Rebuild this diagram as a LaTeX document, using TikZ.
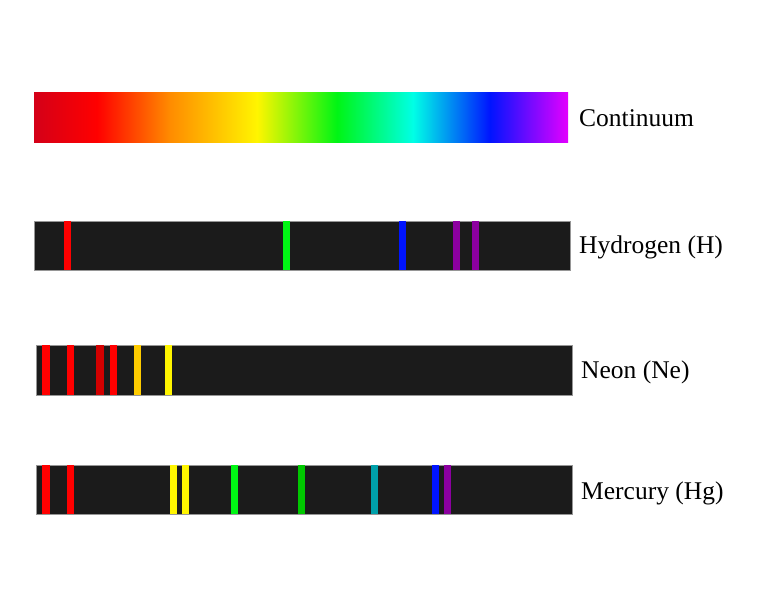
\documentclass[tikz,border=0pt]{standalone}
\usepackage{fontspec}
\setmainfont{Liberation Serif}
\definecolor{crim}{RGB}{212,0,24}
\definecolor{sred}{RGB}{255,0,0}
\definecolor{dred}{RGB}{210,0,0}
\definecolor{sorange}{RGB}{255,140,0}
\definecolor{syellow}{RGB}{255,245,0}
\definecolor{sgold}{RGB}{255,204,0}
\definecolor{sgreen}{RGB}{0,245,20}
\definecolor{dgreen}{RGB}{0,200,0}
\definecolor{scyan}{RGB}{0,255,230}
\definecolor{steal}{RGB}{0,160,170}
\definecolor{sblue}{RGB}{0,20,255}
\definecolor{spurple}{RGB}{140,0,160}
\definecolor{smagenta}{RGB}{228,0,255}
\definecolor{barbg}{RGB}{27,27,27}
\pgfdeclarehorizontalshading{rainbow}{100bp}{color(0bp)=(crim); color(25bp)=(crim);
  color(30.9bp)=(sred); color(37.75bp)=(sorange); color(45.9bp)=(syellow);
  color(53.35bp)=(sgreen); color(60.5bp)=(scyan); color(67.7bp)=(sblue);
  color(75bp)=(smagenta); color(100bp)=(smagenta)}
\tikzset{
  bar/.style={fill=barbg, draw={rgb,255:red,150;green,150;blue,150}, line width=0.8pt},
  specline/.style={line width=7pt},
  label/.style={anchor=base west, inner sep=0pt, font=\fontsize{25.5}{30}\selectfont}
}

\begin{document}
\begin{tikzpicture}[x=1pt, y=-1pt]
		      \useasboundingbox (0,0) rectangle (773,601);
		      % continuum
		      \shade[shading=rainbow] (34,93) rectangle (568,143);
		      \node[label] (cont) at (579,127) {Continuum};
		      % hydrogen
		      \draw[bar] (34,221) rectangle (570,270);
		      \draw[specline, sred] (67.7,221) -- (67.7,270);
		      \draw[specline, sgreen] (286.7,221) -- (286.7,270);
		      \draw[specline, sblue] (402,221) -- (402,270);
		      \draw[specline, spurple] (456.7,221) -- (456.7,270);
		      \draw[specline, spurple] (475.5,221) -- (475.5,270);
		      \node[label] (hyd) at (579,254) {Hydrogen (H)};
		      % neon
		      \draw[bar] (36,345) rectangle (572,395);
		      \draw[specline, sred, line width=8pt] (45.8,345) -- (45.8,395);
		      \draw[specline, sred] (70,345) -- (70,395);
		      \draw[specline, dred, line width=8pt] (100,345) -- (100,395);
		      \draw[specline, sred] (113,345) -- (113,395);
		      \draw[specline, sgold] (137,345) -- (137,395);
		      \draw[specline, syellow] (168,345) -- (168,395);
		      \node[label] (neon) at (581,378) {Neon (Ne)};
		      % mercury
		      \draw[bar] (36,465) rectangle (572,514);
		      \draw[specline, sred, line width=8pt] (45.7,465) -- (45.7,514);
		      \draw[specline, sred] (70,465) -- (70,514);
		      \draw[specline, syellow] (173.8,465) -- (173.8,514);
		      \draw[specline, syellow] (185.5,465) -- (185.5,514);
		      \draw[specline, sgreen] (234.5,465) -- (234.5,514);
		      \draw[specline, dgreen] (301.3,465) -- (301.3,514);
		      \draw[specline, steal] (374.7,465) -- (374.7,514);
		      \draw[specline, sblue] (435.8,465) -- (435.8,514);
		      \draw[specline, spurple] (447.5,465) -- (447.5,514);
		      \node[label] (merc) at (581,499) {Mercury (Hg)};
	      \end{tikzpicture}
\end{document}
